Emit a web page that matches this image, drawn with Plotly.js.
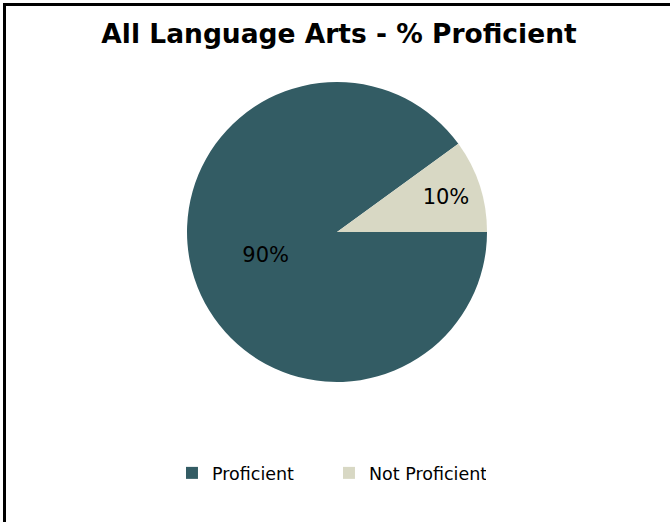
<!DOCTYPE html>
<html>
<head>
<meta charset="utf-8">
<script src="https://cdn.plot.ly/plotly-3.0.1.min.js"></script>
<style>
html,body{margin:0;padding:0;background:#fff;overflow:hidden;}
#wrap{position:relative;width:670px;height:522px;}
#chart{position:absolute;left:0;top:0;width:670px;height:522px;}
#frame{position:absolute;left:3px;top:3px;width:700px;height:600px;border:3px solid #000;pointer-events:none;}
</style>
</head>
<body>
<div id="wrap"><div id="chart"></div><div id="frame"></div></div>
<script>
const categories = ["Proficient", "Not Proficient"];
const values = [90, 10];
const colors = ["#335C64", "#D8D8C4"];
const titleText = "All Language Arts - % Proficient";

const H = 522;
const trace = {
  type: "pie",
  labels: categories,
  values: values,
  sort: false,
  direction: "counterclockwise",
  rotation: 90,
  marker: {colors: colors, line: {width: 0}},
  textinfo: "percent",
  texttemplate: "%{percent:.0%}",
  textposition: "inside",
  insidetextorientation: "horizontal",
  textfont: {family: "DejaVu Sans", size: 21, color: "#000"},
  domain: {x: [0.006, 1], y: [(H - 382) / H, (H - 82) / H]},
  hoverinfo: "none"
};

const layout = {
  width: 670, height: 522,
  margin: {l: 0, r: 0, t: 0, b: 0},
  paper_bgcolor: "#fff",
  title: {
    text: "<b>" + titleText + "</b>",
    font: {family: "DejaVu Sans", size: 26.5, color: "#000"},
    x: 0.506, xanchor: "center", y: (H - 34) / H, yanchor: "middle"
  },
  showlegend: true,
  legend: {
    orientation: "h", x: 0.491, xanchor: "center", y: (H - 473) / H, yanchor: "middle",
    font: {family: "DejaVu Sans", size: 17.5, color: "#000"},
    traceorder: "normal",
    entrywidth: 112, entrywidthmode: "pixels"
  }
};

Plotly.newPlot("chart", [trace], layout, {displayModeBar: false, staticPlot: true});
</script>
</body>
</html>
